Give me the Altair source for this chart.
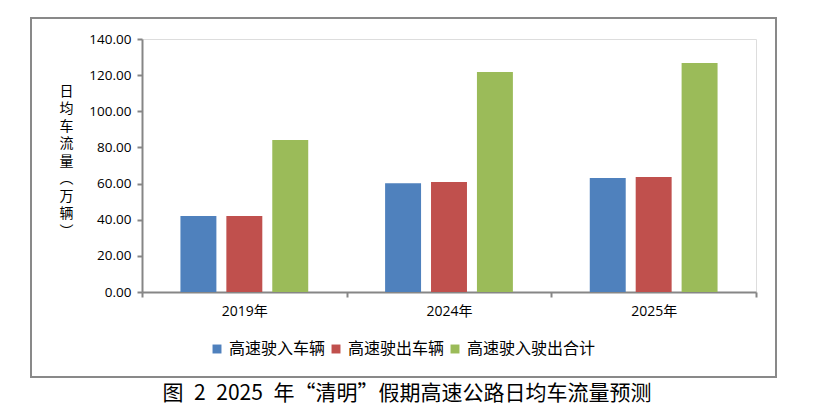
import altair as alt
import pandas as pd

years = ["2019年", "2024年", "2025年"]
series = ["高速驶入车辆", "高速驶出车辆", "高速驶入驶出合计"]
entering = [42.0, 60.2, 63.1]
leaving = [42.0, 60.9, 63.6]
total = [84.1, 121.7, 126.7]
colors = ["#4F81BD", "#C0504D", "#9BBB59"]
y_ticks = [0, 20, 40, 60, 80, 100, 120, 140]
y_title = ["日", "均", "车", "流", "量", "︵", "万", "辆", "︶"]
caption = "图\u20022\u20022025\u2002年“清明”假期高速公路日均车流量预测"

rows = []
for i, y in enumerate(years):
    for s, vals in zip(series, [entering, leaving, total]):
        rows.append({"year": y, "series": s, "value": vals[i]})
df = pd.DataFrame(rows)

AX = "#868686"
LAT = "Open Sans, Noto Sans CJK SC, sans-serif"
CJK = "Noto Sans CJK SC, sans-serif"

bars = alt.Chart(df).mark_bar().encode(
    x=alt.X("year:N", sort=years,
            scale=alt.Scale(paddingInner=0, paddingOuter=0),
            axis=alt.Axis(title=None, labelAngle=0, tickBand="extent",
                          domainColor=AX, domainWidth=2, tickColor=AX,
                          tickWidth=2, tickSize=5, labelPadding=7,
                          labelFont=LAT, labelFontSize=14, labelColor="#000")),
    xOffset=alt.XOffset("series:N", sort=series,
                        scale=alt.Scale(paddingInner=0.217, paddingOuter=0.837)),
    y=alt.Y("value:Q", scale=alt.Scale(domain=[0, 140], nice=False),
            axis=alt.Axis(values=y_ticks, format=".2f", grid=False,
                          title=y_title, titleAngle=0, titleX=-76, titleY=45,
                          titleAlign="center", titleBaseline="top",
                          titleFont=CJK, titleFontSize=14, titleFontWeight="normal",
                          titleLineHeight=17.5, titleColor="#000",
                          domainColor=AX, domainWidth=2, tickColor=AX,
                          tickWidth=2, tickSize=5, labelPadding=6,
                          labelFont=LAT, labelFontSize=13.5, labelColor="#000")),
    color=alt.Color("series:N", sort=series,
                    scale=alt.Scale(domain=series, range=colors),
                    legend=alt.Legend(title=None, orient="none", direction="horizontal",
                                      legendX=67, legendY=302,
                                      symbolType="square", symbolSize=80,
                                      symbolStrokeWidth=0, labelOffset=4,
                                      columnPadding=2, labelFont=CJK,
                                      labelFontSize=16, labelColor="#000")),
)

one = alt.Data(values=[{"k": 1}])

frame = alt.Chart(one).mark_rect(filled=False, stroke="#898989", strokeWidth=2).encode(
    x=alt.value(-111), x2=alt.value(634), y=alt.value(-21), y2=alt.value(338)
)

cap = alt.Chart(one).mark_text(font=CJK, fontSize=21, color="#000",
                                align="center", baseline="middle").encode(
    x=alt.value(265), y=alt.value(355), text=alt.value(caption)
)

chart = alt.layer(frame, bars, cap).properties(
    width=614, height=253,
    autosize=alt.AutoSizeParams(type="none"),
    padding={"left": 134, "top": 31, "right": 60, "bottom": 116},
).configure_view(stroke=None).configure(background="white")

chart.save("out.html", embed_options={"renderer": "svg", "actions": False})
